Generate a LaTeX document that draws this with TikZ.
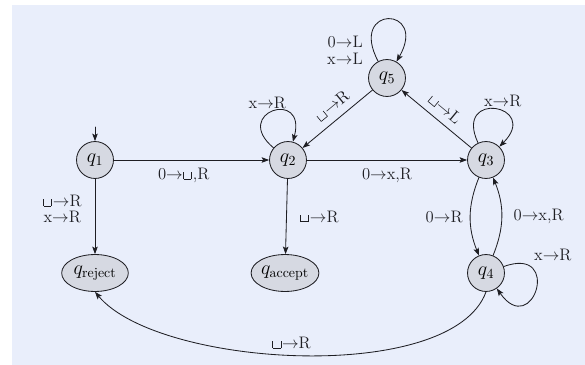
\documentclass[tikz,border=0pt]{standalone}
\usepackage{amsmath}
\usepackage{xcolor}
\usepackage{tikz}
\usetikzlibrary{arrows.meta,calc,shapes.geometric}
\definecolor{ColPaper}{RGB}{233,238,251}
\definecolor{ColState}{RGB}{214,217,226}
\definecolor{ColInk}{RGB}{30,30,35}
\newcommand{\blk}{\mbox{\kern0.3pt\rule{0.45pt}{1ex}\rule{0.45em}{0.45pt}\rule{0.45pt}{1ex}\kern0.6pt}}
\newcommand{\rarr}{$\rightarrow$}

\begin{document}
\begin{tikzpicture}[
  x=0.72pt, y=-0.72pt,
  >={Stealth[length=1.9mm,width=1.4mm,inset=0.4mm]},
  line cap=round,
  line join=round,
  every node/.style={font=\large},
  state/.style={circle, draw=ColInk, line width=0.6pt, fill=ColState,
    minimum size=26.6pt, inner sep=0pt, font=\Large},
  halt/.style={ellipse, draw=ColInk, line width=0.6pt, fill=ColState,
    minimum width=48pt, minimum height=26.6pt, inner sep=0pt, font=\Large},
  trans/.style={->, line width=0.6pt, ColInk}
]
  \useasboundingbox (0,0) rectangle (585,365);
  \fill[ColPaper] (12,5) rectangle (585,365);

  % States
  \foreach \i/\x/\y in {1/95/160, 2/288/160, 3/486/160, 4/486/273, 5/387/78}{
    \node[state] (q\i) at (\x,\y) {$q_{\i}$};
  }
  \node[halt] (qrej) at (95,273) {$q_{\text{reject}}$};
  \node[halt] (qacc) at (285,273) {$q_{\text{accept}}$};

  % Start arrow
  \coordinate (start) at (95,127);
  \draw[trans] (start) -- (q1);

  % Transitions between states
  \draw[trans] (q1) -- node[below=2pt, pos=0.45] {0\rarr\blk,R} (q2);
  \draw[trans] (q2) -- node[below=2pt] {0\rarr x,R} (q3);
  \draw[trans] (q1) -- node[left=6pt, pos=0.4, align=center] {\blk\rarr R\\[-2pt]x\rarr R} (qrej);
  \draw[trans] (q2) -- node[right=6pt] {\blk\rarr R} (qacc);
  \draw[trans] (q5) -- node[sloped, above=2pt, pos=0.45] {\blk\rarr R} (q2);
  \draw[trans] (q3) -- node[sloped, above=2pt] {\blk\rarr L} (q5);
  \draw[trans] (q3) to[bend right=22] node[left=2pt] {0\rarr R} (q4);
  \draw[trans] (q4) to[bend right=22] node[right=5pt] {0\rarr x,R} (q3);
  \draw[trans] (q4.south) to[out=-110, in=-50, looseness=0.65] node[above=1pt, pos=0.52] {\blk\rarr R} (qrej.south);

  % Loops
  \draw[trans] (q2) to[out=140, in=75, looseness=7] node[above, pos=0.42] {x\rarr R} (q2);
  \draw[trans] (q3) to[out=115, in=45, looseness=7] node[above, pos=0.6] {x\rarr R} (q3);
  \draw[trans] (q5) to[out=118, in=60, looseness=9] node[left=4pt, pos=0.07, align=right] {0\rarr L\\[-2pt]x\rarr L} (q5);
  \draw[trans] (q4) to[out=20, in=-55, looseness=7] node[above right, pos=0.2] {x\rarr R} (q4);
\end{tikzpicture}
\end{document}
